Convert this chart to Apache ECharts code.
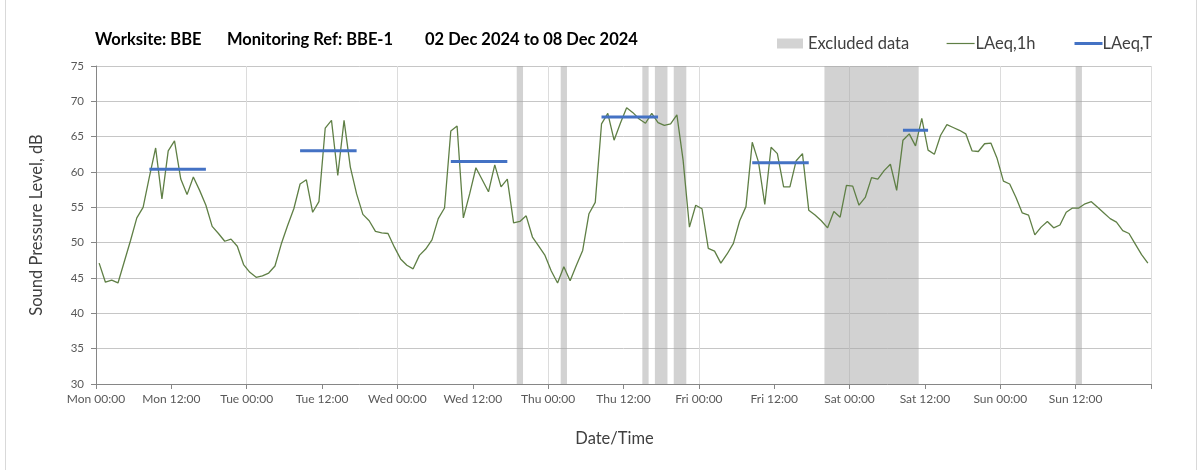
<!DOCTYPE html>
<html>
<head>
<meta charset="utf-8">
<script src="https://cdn.jsdelivr.net/npm/echarts@6/dist/echarts.min.js"></script>
<style>
  html, body { margin: 0; padding: 0; background: #ffffff; }
  #chart { width: 1203px; height: 470px; }
</style>
</head>
<body>
<div id="chart"></div>
<script>
// Hourly LAeq,1h values (dB), Mon 00:00 .. Sun 23:00
const laeq1h = [
  47.1,44.4,44.7,44.3,47.3,50.3,53.5,55.0,59.3,63.4,56.2,63.0,64.4,59.0,56.8,59.3,57.4,55.3,52.3,51.3,50.2,50.5,49.5,46.9,
  45.8,45.1,45.3,45.7,46.7,49.8,52.4,54.8,58.3,58.9,54.3,55.8,66.2,67.3,59.5,67.3,60.7,56.9,54.0,53.1,51.6,51.4,51.3,49.4,
  47.7,46.8,46.3,48.2,49.1,50.4,53.4,54.9,65.8,66.5,53.5,56.9,60.6,58.9,57.2,61.0,57.9,59.0,52.8,53.0,53.8,50.8,49.5,48.2,
  46.0,44.3,46.6,44.6,46.8,48.9,54.1,55.7,66.8,68.3,64.5,66.9,69.1,68.4,67.5,66.9,68.3,67.0,66.6,66.8,68.1,61.6,52.2,55.3,
  54.8,49.2,48.8,47.1,48.4,49.9,53.1,55.1,64.2,61.4,55.4,63.5,62.6,57.9,57.9,61.6,62.6,54.6,53.9,53.1,52.1,54.4,53.6,58.1,
  58.0,55.3,56.4,59.2,59.0,60.2,61.1,57.4,64.5,65.4,63.7,67.6,63.1,62.5,65.2,66.7,66.3,65.9,65.4,63.0,62.9,64.0,64.1,61.9,
  58.7,58.3,56.4,54.2,53.9,51.1,52.2,53.0,52.1,52.5,54.3,54.9,54.9,55.5,55.8,55.0,54.2,53.4,52.9,51.7,51.3,49.8,48.3,47.1
];

// LAeq,T periods: first hour, last hour (inclusive), value
const ltStartHour = [8, 32, 56, 80, 104, 128];
const ltEndHour   = [17, 41, 65, 89, 113, 132];
const ltValue     = [60.4, 63.0, 61.5, 67.8, 61.3, 65.9];

// Excluded data periods (hours from Mon 00:00): start, end
const excludedStart = [67, 74, 87, 89, 92, 116, 156];
const excludedEnd   = [68, 75, 88, 91, 94, 131, 157];

// X tick labels every 12 hours
const xTickLabels = ['Mon 00:00','Mon 12:00','Tue 00:00','Tue 12:00','Wed 00:00','Wed 12:00',
  'Thu 00:00','Thu 12:00','Fri 00:00','Fri 12:00','Sat 00:00','Sat 12:00','Sun 00:00','Sun 12:00',''];

const titleParts = ['Worksite: BBE', 'Monitoring Ref: BBE-1', '02 Dec 2024 to 08 Dec 2024'];

const FONT = 'Lato, "Noto Sans", sans-serif';

const lineData = laeq1h.map((v, i) => [i + 0.5, v]);
const ltData = [];
ltValue.forEach((v, k) => {
  ltData.push([ltStartHour[k] + 0.5, v]);
  ltData.push([ltEndHour[k] + 0.5, v]);
  ltData.push([ltEndHour[k] + 1, '-']);
});
const areas = excludedStart.map((s, k) => [{ xAxis: s }, { xAxis: excludedEnd[k] }]);

const legendText = { fontSize: 16.5, color: '#404040', fontFamily: FONT };

const chart = echarts.init(document.getElementById('chart'), null, { renderer: 'canvas' });
chart.setOption({
  animation: false,
  backgroundColor: '#ffffff',
  textStyle: { fontFamily: FONT },
  graphic: [
    { type: 'rect', shape: { x: 5.5, y: -5, width: 1191, height: 480 },
      style: { fill: 'none', stroke: '#d9d9d9', lineWidth: 1 }, silent: true },
    { type: 'text', left: 95, top: 31, style: { text: titleParts[0], font: 'bold 16.5px ' + FONT, fill: '#000000' } },
    { type: 'text', left: 227, top: 31, style: { text: titleParts[1], font: 'bold 16.5px ' + FONT, fill: '#000000' } },
    { type: 'text', left: 425, top: 31, style: { text: titleParts[2], font: 'bold 16.5px ' + FONT, fill: '#000000' } }
  ],
  legend: [
    {
      left: 772, top: 30, itemWidth: 26, itemHeight: 10, itemGap: 0,
      textStyle: legendText,
      data: [{ name: 'Excluded data', icon: 'rect', itemStyle: { color: '#d3d3d3' } }]
    },
    {
      left: 941, top: 30, itemWidth: 28, itemHeight: 10, itemGap: 0,
      textStyle: Object.assign({ padding: [0, 0, 0, -4] }, legendText),
      data: [{ name: 'LAeq,1h', itemStyle: { opacity: 0 }, lineStyle: { width: 1.2 } }]
    },
    {
      left: 1068, top: 30, itemWidth: 28, itemHeight: 10, itemGap: 0,
      textStyle: Object.assign({ padding: [0, 0, 0, -5] }, legendText),
      data: [{ name: 'LAeq,T', itemStyle: { opacity: 0 }, lineStyle: { width: 3 } }]
    }
  ],
  grid: { left: 96, right: 52, top: 66, bottom: 86, containLabel: false },
  xAxis: [
    {
      type: 'value', min: 0, max: 168, interval: 12,
      name: 'Date/Time', nameLocation: 'middle', nameGap: 46,
      nameTextStyle: { fontSize: 16.5, color: '#404040', fontFamily: FONT, padding: [0, 18, 0, 0] },
      axisLine: { show: true, lineStyle: { color: '#868686', width: 1 } },
      axisTick: { show: true, length: 5, lineStyle: { color: '#868686' } },
      axisLabel: {
        color: '#595959', fontSize: 12, margin: 9, fontFamily: FONT,
        formatter: v => xTickLabels[Math.round(v / 12)] || ''
      },
      splitLine: { show: false }
    },
    {
      type: 'value', min: 0, max: 168, interval: 24, position: 'bottom',
      axisLine: { show: false }, axisTick: { show: false }, axisLabel: { show: false },
      splitLine: { show: true, lineStyle: { color: '#dcdcdc', width: 1 } }
    }
  ],
  yAxis: {
    type: 'value', min: 30, max: 75, interval: 5,
    name: 'Sound Pressure Level, dB', nameLocation: 'middle', nameGap: 51, nameRotate: 90,
    nameTextStyle: { fontSize: 16.5, color: '#404040', fontFamily: FONT },
    axisLine: { show: true, lineStyle: { color: '#868686', width: 1 } },
    axisTick: { show: true, inside: false, length: 5, lineStyle: { color: '#868686' } },
    axisLabel: { color: '#595959', fontSize: 11.5, margin: 12, fontFamily: FONT },
    splitLine: { show: true, lineStyle: { color: '#c6c6c6', width: 1 } }
  },
  series: [
    {
      name: 'Excluded data', type: 'line', data: [], color: '#d3d3d3', symbol: 'none',
      markArea: { silent: true, itemStyle: { color: 'rgba(166,166,166,0.5)' }, data: areas }
    },
    {
      name: 'LAeq,1h', type: 'line', data: lineData, color: '#5f7f45',
      symbol: 'none', lineStyle: { width: 1.3, color: '#5f7f45' }, z: 3
    },
    {
      name: 'LAeq,T', type: 'line', data: ltData, color: '#4472c4',
      symbol: 'none', connectNulls: false, lineStyle: { width: 3, color: '#4472c4' }, z: 4
    }
  ]
});
</script>
</body>
</html>
